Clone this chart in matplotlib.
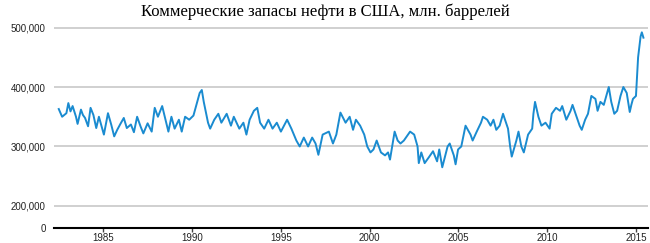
import matplotlib
matplotlib.use("Agg")
import matplotlib.pyplot as plt
from matplotlib.ticker import FixedLocator, FixedFormatter

# commercial crude stocks, thousand barrels
years = [1982.51, 1982.70, 1982.94, 1983.05, 1983.17, 1983.29, 1983.48, 1983.57, 1983.76, 1983.87,
         1983.99, 1984.16, 1984.30, 1984.46, 1984.62, 1984.77, 1985.05, 1985.28, 1985.47, 1985.63,
         1985.80, 1985.98, 1986.17, 1986.34, 1986.57, 1986.74, 1986.92, 1987.11, 1987.27, 1987.51,
         1987.74, 1987.91, 1988.09, 1988.33, 1988.52, 1988.68, 1988.85, 1989.03, 1989.27, 1989.43,
         1989.62, 1989.85, 1990.09, 1990.44, 1990.56, 1990.67, 1990.91, 1991.03, 1991.26, 1991.49,
         1991.66, 1991.96, 1992.20, 1992.36, 1992.67, 1992.90, 1993.07, 1993.25, 1993.49, 1993.68,
         1993.84, 1994.07, 1994.31, 1994.54, 1994.78, 1995.01, 1995.36, 1995.60, 1995.88, 1996.07,
         1996.30, 1996.54, 1996.77, 1996.96, 1997.12, 1997.36, 1997.71, 1997.94, 1998.13, 1998.36,
         1998.65, 1998.88, 1999.07, 1999.23, 1999.47, 1999.70, 1999.87, 2000.05, 2000.22, 2000.40,
         2000.64, 2000.87, 2001.04, 2001.15, 2001.30, 2001.41, 2001.58, 2001.74, 2001.93, 2002.28,
         2002.51, 2002.70, 2002.77, 2002.91, 2003.10, 2003.34, 2003.57, 2003.80, 2003.92, 2004.09,
         2004.39, 2004.51, 2004.74, 2004.84, 2004.98, 2005.16, 2005.40, 2005.68, 2005.80, 2006.03,
         2006.27, 2006.38, 2006.62, 2006.81, 2006.97, 2007.13, 2007.32, 2007.51, 2007.79, 2007.91,
         2008.00, 2008.26, 2008.38, 2008.54, 2008.68, 2008.92, 2009.15, 2009.22, 2009.31, 2009.50,
         2009.67, 2009.90, 2010.13, 2010.25, 2010.49, 2010.72, 2010.84, 2011.07, 2011.31, 2011.42,
         2011.59, 2011.82, 2011.94, 2012.13, 2012.29, 2012.48, 2012.71, 2012.83, 2012.99, 2013.18,
         2013.37, 2013.46, 2013.60, 2013.77, 2013.93, 2014.12, 2014.28, 2014.47, 2014.64, 2014.73,
         2014.82, 2014.99, 2015.11, 2015.25, 2015.32, 2015.41]
stocks = [363, 350, 356, 373, 359, 368, 350, 338, 362, 353,
          348, 334, 365, 353, 331, 350, 320, 356, 336, 317,
          328, 338, 348, 331, 337, 324, 350, 334, 322, 339,
          325, 365, 350, 368, 345, 325, 350, 330, 345, 325,
          350, 345, 352, 390, 395, 375, 340, 330, 345, 355,
          340, 355, 335, 350, 330, 340, 320, 345, 360, 365,
          340, 330, 345, 330, 340, 325, 345, 330, 310, 300,
          315, 300, 315, 305, 286, 320, 325, 305, 320, 357,
          340, 350, 328, 345, 335, 320, 300, 290, 295, 310,
          290, 285, 290, 278, 305, 325, 310, 305, 310, 325,
          320, 300, 272, 290, 272, 282, 292, 275, 295, 265,
          300, 305, 285, 270, 295, 300, 335, 320, 310, 325,
          340, 350, 345, 335, 345, 328, 335, 355, 330, 300,
          283, 310, 325, 300, 290, 320, 330, 355, 375, 350,
          335, 340, 330, 355, 365, 360, 368, 345, 360, 370,
          355, 335, 328, 345, 355, 385, 380, 360, 375, 370,
          390, 400, 375, 355, 360, 385, 400, 390, 358, 370,
          380, 385, 450, 485, 492, 483]
stocks = [v * 1000 for v in stocks]

ytick_vals = [163000, 200000, 300000, 400000, 500000]
ytick_labels = ['0', '200,000', '300,000', '400,000', '500,000']
xtick_vals = [1985, 1990, 1995, 2000, 2005, 2010, 2015]

fig = plt.figure(figsize=(6.5, 2.43), dpi=100)
ax = fig.add_axes([0.083, 0.062, 0.914, 0.849])

ax.plot(years, stocks, color='#1a8bd0', lw=1.4, zorder=3)

ax.set_xlim(1982.24, 2015.67)
ax.set_ylim(163000, 510000)

ax.yaxis.set_major_locator(FixedLocator(ytick_vals))
ax.yaxis.set_major_formatter(FixedFormatter(ytick_labels))
ax.set_xticks(xtick_vals)
ax.set_xticklabels([str(y) for y in xtick_vals])

ax.grid(axis='y', color='#c8c8c8', lw=1.2)
ax.grid(axis='x', visible=False)
for s in ['top', 'right', 'left']:
    ax.spines[s].set_visible(False)
ax.spines['bottom'].set_color('black')
ax.spines['bottom'].set_linewidth(1.5)
ax.spines['bottom'].set_zorder(4)

ax.tick_params(axis='y', length=0, pad=6, labelsize=7, labelcolor='#222222')
ax.tick_params(axis='x', length=3, width=1, color='#444444', pad=1,
               labelsize=7, labelcolor='#222222')
for t in ax.get_xticklabels() + ax.get_yticklabels():
    t.set_family('Liberation Sans')

fig.text(0.5, 0.95, 'Коммерческие запасы нефти в США, млн. баррелей',
         ha='center', va='center', fontsize=12, family='Liberation Serif')

fig.savefig('out.png', dpi=100)
